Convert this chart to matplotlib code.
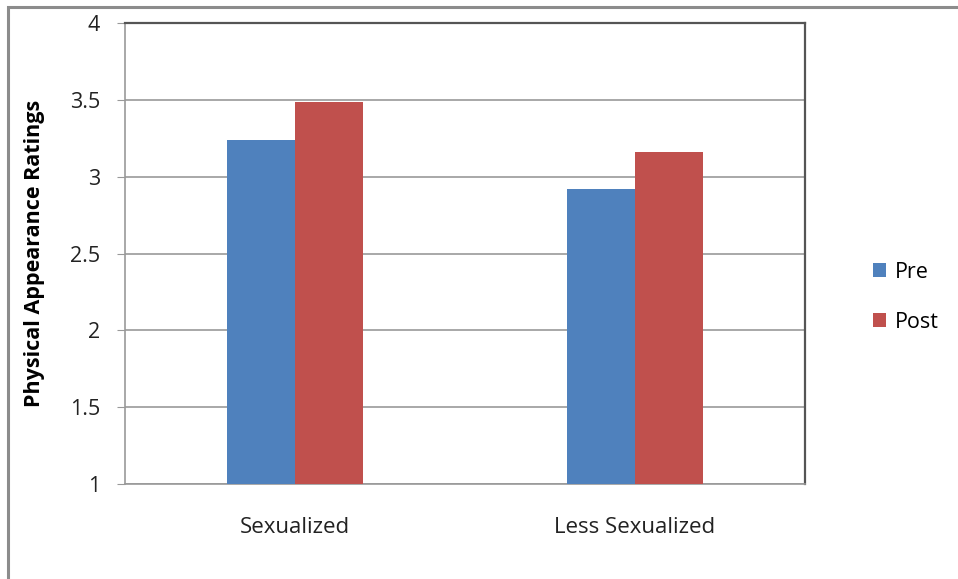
import matplotlib.pyplot as plt
import matplotlib.patches as mpatches
import numpy as np

plt.rcParams['font.family'] = ['Open Sans', 'DejaVu Sans']

categories = ['Sexualized', 'Less Sexualized']
pre = [3.236, 2.918]
post = [3.484, 3.159]
series_names = ['Pre', 'Post']
colors = ['#4f81bd', '#c0504d']

fig = plt.figure(figsize=(9.58, 5.79), dpi=100)
ax = fig.add_axes([125/958, 1-484/579, 680/958, 461/579])

x = np.arange(len(categories))
w = 0.2
ax.bar(x - w/2, pre, w, color=colors[0], label=series_names[0], zorder=3)
ax.bar(x + w/2, post, w, color=colors[1], label=series_names[1], zorder=3)

ax.set_ylim(1, 4)
ax.set_xlim(-0.5, 1.5)
ax.set_yticks([1, 1.5, 2, 2.5, 3, 3.5, 4])
ax.set_yticklabels(['1', '1.5', '2', '2.5', '3', '3.5', '4'])
ax.set_xticks(x)
ax.set_xticklabels(categories)
ax.yaxis.grid(True, color='#999999', linewidth=1.2, zorder=0)

ax.tick_params(axis='y', length=6, color='#999999', labelsize=15.5, pad=12, labelcolor='#222222')
ax.tick_params(axis='x', length=0, labelsize=16, pad=24, labelcolor='#222222')
for s in ['left', 'bottom']:
    ax.spines[s].set_color('#999999')
    ax.spines[s].set_linewidth(1.2)
for s in ['right', 'top']:
    ax.spines[s].set_color('#555555')
    ax.spines[s].set_linewidth(1.6)

ax.set_ylabel('Physical Appearance Ratings', fontsize=15.5, fontweight='bold', labelpad=18)

ax.legend(loc='center left', bbox_to_anchor=(1.072, 0.405), frameon=False,
          fontsize=15.5, handlelength=0.6, handleheight=0.6, labelspacing=1.35,
          handletextpad=0.4)

# outer chart frame
fig.patches.append(mpatches.Rectangle((8/958, -0.1), 1.2, 1.1 - 7/579,
                                      transform=fig.transFigure, fill=False,
                                      edgecolor='#8c8c8c', linewidth=2.2))

fig.savefig('out.png', dpi=100)
